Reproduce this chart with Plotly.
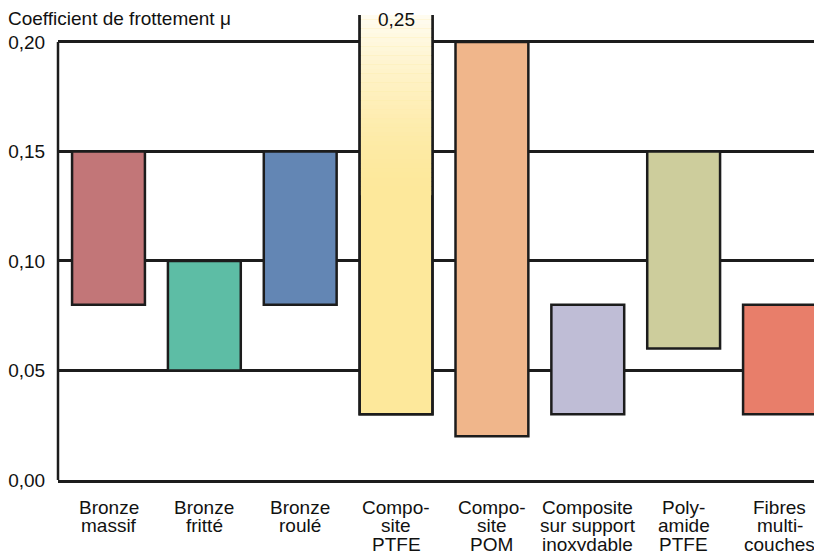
import plotly.graph_objects as go

# ---- data ----
categories = [["Bronze", "massif"], ["Bronze", "fritté"], ["Bronze", "roulé"],
              ["Compo-", "site", "PTFE"], ["Compo-", "site", "POM"],
              ["Composite", "sur support", "inoxydable"], ["Poly-", "amide", "PTFE"],
              ["Fibres", "multi-", "couches"]]
mu_min = [0.08, 0.05, 0.08, 0.03, 0.02, 0.03, 0.06, 0.03]
mu_max = [0.15, 0.10, 0.15, 0.25, 0.20, 0.08, 0.15, 0.08]
colors = ["#c27678", "#5dbda5", "#6386b4", "#fde89b", "#f0b68b",
          "#bfbdd6", "#cdcd9c", "#e87e6a"]
y_ticks = [0.00, 0.05, 0.10, 0.15, 0.20]
y_title = "Coefficient de frottement μ"

FONT = "Liberation Sans, Arial, sans-serif"
FS = 19
LINE = "#1c1c1c"
BAR_W = 0.76
Y_TOP = 0.2123
idx = list(range(len(categories)))

# plot area in page pixels
PL, PR, PT, PB = 58, 814, 15, 480
PH = PB - PT

def ypaper(py):
    return (PB - py) / PH

fig = go.Figure()

# main floating bars
fig.add_trace(go.Bar(
    x=idx, base=mu_min, y=[t - b for t, b in zip(mu_max, mu_min)],
    width=BAR_W, marker=dict(color=colors, line=dict(color=LINE, width=2.5)),
    showlegend=False, hoverinfo="skip"))

# vertical light gradient at the top of the clipped bar (styling only)
clip_i = max(idx, key=lambda i: mu_max[i])
def mix(c1, c2, t):
    a = [int(c1[k:k + 2], 16) for k in (1, 3, 5)]
    b = [int(c2[k:k + 2], 16) for k in (1, 3, 5)]
    return "rgb(%d,%d,%d)" % tuple(round(a[j] + (b[j] - a[j]) * t) for j in range(3))
n_seg = 40
g_lo, g_hi = 0.13, Y_TOP
seg_h = (g_hi - g_lo) / n_seg
seg_base = [g_lo + k * seg_h for k in range(n_seg)]
seg_col = [mix(colors[clip_i], "#fffcf0", (k / (n_seg - 1)) ** 1.6) for k in range(n_seg)]
fig.add_trace(go.Bar(
    x=[clip_i] * n_seg, base=seg_base, y=[seg_h * 1.02] * n_seg,
    width=BAR_W, marker=dict(color=seg_col, line=dict(width=0)),
    showlegend=False, hoverinfo="skip"))
# outline redraw
fig.add_trace(go.Bar(
    x=[clip_i], base=[mu_min[clip_i]], y=[mu_max[clip_i] - mu_min[clip_i]],
    width=BAR_W, marker=dict(color="rgba(0,0,0,0)", line=dict(color=LINE, width=2.5)),
    showlegend=False, hoverinfo="skip"))

# value label for the clipped bar
fig.add_annotation(x=clip_i, y=ypaper(20), xref="x", yref="paper",
                   text=("%.2f" % mu_max[clip_i]).replace(".", ","),
                   showarrow=False, font=dict(family=FONT, size=FS, color="#111"),
                   xanchor="center", yanchor="middle")

# axis title
fig.add_annotation(x=(6 - PL) / (PR - PL), y=ypaper(19), xref="paper", yref="paper",
                   text=y_title, showarrow=False, xanchor="left", yanchor="middle",
                   font=dict(family=FONT, size=FS, color="#111"))

# category labels (one annotation per line, tight line spacing)
for i, lines in zip(idx, categories):
    for k, ln in enumerate(lines):
        fig.add_annotation(x=i, y=ypaper(507 + 18.5 * k), xref="x", yref="paper",
                           text=ln, showarrow=False, xanchor="center", yanchor="middle",
                           font=dict(family=FONT, size=FS, color="#111"))

# left axis line (only up to the top grid line)
fig.add_shape(type="line", xref="paper", yref="y", x0=0, x1=0,
              y0=y_ticks[0], y1=y_ticks[-1], line=dict(color=LINE, width=2.5), layer="above")

fig.update_layout(
    width=814, height=551,
    margin=dict(l=PL, r=814 - PR, t=PT, b=551 - PB, pad=0),
    paper_bgcolor="white", plot_bgcolor="white",
    barmode="overlay", separators=", ",
    font=dict(family=FONT, size=FS, color="#111"),
    xaxis=dict(range=[-(108.5 - PL) / 95.86, 7 + (PR - 779.5) / 95.86],
               showticklabels=False, showgrid=False, zeroline=False,
               showline=True, linecolor=LINE, linewidth=2.5, ticks=""),
    yaxis=dict(range=[0, Y_TOP], tickmode="array", tickvals=y_ticks, tickformat=".2f",
               showgrid=True, gridcolor=LINE, gridwidth=2.5, zeroline=False,
               showline=False, ticks="outside", ticklen=8, tickcolor="rgba(0,0,0,0)",
               tickfont=dict(family=FONT, size=FS, color="#111")),
)

fig.write_html("out.html", config={"displayModeBar": False},
               post_script="document.body.style.margin='0';document.body.style.overflow='hidden';")
